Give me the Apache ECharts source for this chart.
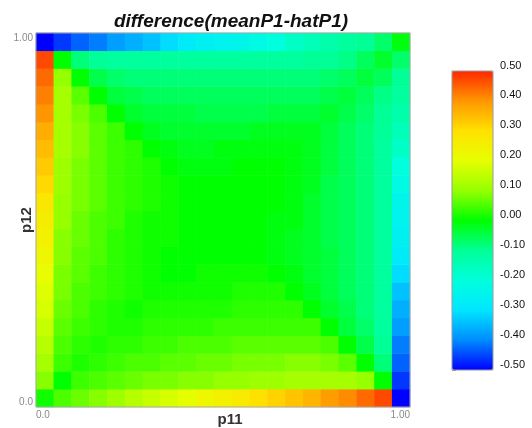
<!DOCTYPE html>
<html>
<head>
<meta charset="utf-8">
<script src="https://cdn.jsdelivr.net/npm/echarts@6/dist/echarts.min.js"></script>
<style>
html,body{margin:0;padding:0;background:#ffffff;}
#chart{width:532px;height:428px;}
</style>
</head>
<body>
<div id="chart"></div>
<script>
// ---------------- data ----------------
const chartTitle = 'difference(meanP1-hatP1)';
const p11Steps = [0.00,0.05,0.10,0.15,0.20,0.25,0.30,0.35,0.40,0.45,0.50,0.55,0.60,0.65,0.70,0.75,0.80,0.85,0.90,0.95,1.00];
const p12Steps = [0.00,0.05,0.10,0.15,0.20,0.25,0.30,0.35,0.40,0.45,0.50,0.55,0.60,0.65,0.70,0.75,0.80,0.85,0.90,0.95,1.00];
const xEndLabels = ['0.0', '1.00'];
const yEndLabels = ['0.0', '1.00'];
const colorbarMin = -0.5;
const colorbarMax = 0.5;

// diffRows[j][i] : value at p12 = p12Steps[j], p11 = p11Steps[i]
const diffRows = [
  [0.01, 0.05, 0.07, 0.09, 0.11, 0.14, 0.16, 0.18, 0.20, 0.23, 0.25, 0.27, 0.30, 0.32, 0.34, 0.36, 0.39, 0.41, 0.44, 0.47, -0.50], // p12=0.00
  [0.09, 0.00, 0.04, 0.05, 0.06, 0.07, 0.08, 0.08, 0.09, 0.09, 0.10, 0.10, 0.11, 0.11, 0.12, 0.12, 0.12, 0.12, 0.10, 0.00, -0.46], // 0.05
  [0.12, 0.04, 0.02, 0.03, 0.04, 0.05, 0.05, 0.06, 0.06, 0.07, 0.07, 0.08, 0.08, 0.08, 0.09, 0.09, 0.08, 0.06, 0.00, -0.08, -0.43], // 0.10
  [0.14, 0.05, 0.03, 0.02, 0.03, 0.03, 0.04, 0.04, 0.05, 0.05, 0.05, 0.06, 0.06, 0.06, 0.06, 0.06, 0.05, 0.00, -0.05, -0.10, -0.41], // 0.15
  [0.16, 0.06, 0.04, 0.03, 0.02, 0.02, 0.03, 0.03, 0.03, 0.03, 0.04, 0.04, 0.04, 0.04, 0.04, 0.04, 0.00, -0.04, -0.07, -0.11, -0.38], // 0.20
  [0.18, 0.07, 0.05, 0.03, 0.02, 0.01, 0.02, 0.02, 0.02, 0.02, 0.02, 0.03, 0.03, 0.03, 0.03, 0.00, -0.03, -0.05, -0.08, -0.11, -0.36], // 0.25
  [0.19, 0.08, 0.05, 0.04, 0.03, 0.02, 0.01, 0.01, 0.01, 0.01, 0.01, 0.02, 0.02, 0.02, 0.00, -0.02, -0.04, -0.06, -0.08, -0.11, -0.34], // 0.30
  [0.21, 0.08, 0.06, 0.04, 0.03, 0.02, 0.01, 0.00, 0.00, 0.01, 0.01, 0.01, 0.01, 0.00, -0.01, -0.03, -0.04, -0.06, -0.08, -0.11, -0.31], // 0.35
  [0.23, 0.09, 0.06, 0.05, 0.03, 0.02, 0.01, 0.00, 0.00, 0.00, 0.00, 0.00, 0.00, -0.01, -0.02, -0.03, -0.04, -0.06, -0.08, -0.11, -0.28], // 0.40
  [0.25, 0.09, 0.07, 0.05, 0.03, 0.02, 0.01, 0.01, 0.00, 0.00, 0.00, 0.00, 0.00, -0.01, -0.02, -0.03, -0.05, -0.06, -0.08, -0.11, -0.26], // 0.45
  [0.26, 0.10, 0.07, 0.05, 0.04, 0.02, 0.01, 0.01, 0.00, 0.00, 0.00, 0.00, 0.00, -0.01, -0.01, -0.03, -0.05, -0.06, -0.08, -0.11, -0.25], // 0.50
  [0.28, 0.10, 0.08, 0.06, 0.04, 0.03, 0.02, 0.01, 0.00, 0.00, 0.00, 0.00, 0.00, 0.00, -0.01, -0.03, -0.05, -0.06, -0.08, -0.11, -0.24], // 0.55
  [0.31, 0.11, 0.08, 0.06, 0.04, 0.03, 0.02, 0.01, 0.00, 0.00, 0.00, 0.00, 0.00, 0.00, -0.01, -0.02, -0.05, -0.06, -0.08, -0.11, -0.22], // 0.60
  [0.33, 0.11, 0.08, 0.06, 0.04, 0.03, 0.02, 0.00, -0.01, -0.01, -0.01, 0.00, 0.00, 0.00, -0.01, -0.02, -0.04, -0.06, -0.08, -0.11, -0.20], // 0.65
  [0.35, 0.12, 0.09, 0.06, 0.04, 0.03, 0.00, -0.01, -0.02, -0.02, -0.01, -0.01, -0.01, -0.01, -0.01, -0.02, -0.04, -0.06, -0.08, -0.11, -0.17], // 0.70
  [0.37, 0.12, 0.09, 0.06, 0.04, 0.00, -0.02, -0.03, -0.03, -0.03, -0.03, -0.03, -0.02, -0.02, -0.02, -0.02, -0.04, -0.06, -0.08, -0.10, -0.15], // 0.75
  [0.40, 0.12, 0.08, 0.05, 0.00, -0.03, -0.04, -0.04, -0.04, -0.05, -0.05, -0.05, -0.05, -0.04, -0.04, -0.04, -0.03, -0.05, -0.07, -0.10, -0.13], // 0.80
  [0.42, 0.12, 0.06, 0.00, -0.04, -0.05, -0.06, -0.06, -0.06, -0.06, -0.06, -0.06, -0.06, -0.06, -0.06, -0.06, -0.05, -0.04, -0.06, -0.09, -0.11], // 0.85
  [0.44, 0.10, 0.00, -0.05, -0.07, -0.08, -0.08, -0.08, -0.08, -0.08, -0.08, -0.08, -0.08, -0.08, -0.08, -0.08, -0.07, -0.06, -0.04, -0.06, -0.10], // 0.90
  [0.47, 0.00, -0.08, -0.10, -0.11, -0.11, -0.11, -0.11, -0.11, -0.11, -0.11, -0.11, -0.11, -0.11, -0.11, -0.10, -0.10, -0.09, -0.06, -0.03, -0.07], // 0.95
  [-0.50, -0.46, -0.43, -0.41, -0.38, -0.36, -0.34, -0.31, -0.28, -0.26, -0.25, -0.24, -0.22, -0.20, -0.17, -0.15, -0.13, -0.11, -0.10, -0.07, -0.01]  // 1.00
];

// ---------------- chart ----------------
const FONT = '"Liberation Sans", Arial, Helvetica, sans-serif';
const heatData = [];
diffRows.forEach(function (row, j) {
  row.forEach(function (v, i) { heatData.push([i, j, v]); });
});

const chart = echarts.init(document.getElementById('chart'), null, {renderer: 'canvas'});
const option = {
  backgroundColor: '#ffffff',
  animation: false,
  textStyle: {fontFamily: FONT},
  title: {
    text: chartTitle,
    left: 231,
    top: 12,
    textAlign: 'center',
    padding: 0,
    textStyle: {fontFamily: FONT, fontSize: 19, fontWeight: 'bold', fontStyle: 'italic', color: '#111111'}
  },
  grid: [
    {left: 36, top: 33, width: 374, height: 374, show: true, borderColor: '#a8a8a8', borderWidth: 1,
     backgroundColor: 'transparent', z: 5, containLabel: false, outerBoundsMode: 'none'},
    {left: 452, top: 71, width: 41, height: 299, show: true, borderColor: '#9a9a9a', borderWidth: 1,
     backgroundColor: 'transparent', z: 5, containLabel: false, outerBoundsMode: 'none'}
  ],
  xAxis: [
    {type: 'category', gridIndex: 0, data: p11Steps.map(function (v) { return v.toFixed(2); }), show: false},
    {type: 'value', gridIndex: 0, min: 0, max: 1, interval: 1, position: 'bottom',
     axisLine: {show: false}, axisTick: {show: false}, splitLine: {show: false},
     axisLabel: {show: true, showMinLabel: true, showMaxLabel: true, margin: 3, fontSize: 10, color: '#8a8a8a',
       fontFamily: FONT, alignMinLabel: 'left', alignMaxLabel: 'right',
       formatter: function (v) { return v === 0 ? xEndLabels[0] : xEndLabels[1]; }},
     name: 'p11', nameLocation: 'middle', nameGap: 5, nameMoveOverlap: false,
     nameTextStyle: {fontFamily: FONT, fontSize: 15, fontWeight: 'bold', color: '#333333', padding: [0, 0, 0, 14]}},
    {type: 'value', gridIndex: 1, min: 0, max: 1, show: false}
  ],
  yAxis: [
    {type: 'category', gridIndex: 0, data: p12Steps.map(function (v) { return v.toFixed(2); }), show: false},
    {type: 'value', gridIndex: 0, min: 0, max: 1, interval: 1, position: 'left',
     axisLine: {show: false}, axisTick: {show: false}, splitLine: {show: false},
     axisLabel: {show: true, showMinLabel: true, showMaxLabel: true, margin: 3, fontSize: 10, color: '#8a8a8a',
       fontFamily: FONT, verticalAlignMinLabel: 'bottom', verticalAlignMaxLabel: 'top',
       formatter: function (v) { return v === 0 ? yEndLabels[0] : yEndLabels[1]; }},
     name: 'p12', nameLocation: 'middle', nameGap: 2, nameRotate: 90, nameMoveOverlap: false,
     nameTextStyle: {fontFamily: FONT, fontSize: 15, fontWeight: 'bold', color: '#333333'}},
    {type: 'value', gridIndex: 1, min: colorbarMin, max: colorbarMax, interval: 0.1, position: 'right',
     axisLine: {show: false},
     axisTick: {show: true, length: 4, lineStyle: {color: '#999999', width: 1}},
     minorTick: {show: true, splitNumber: 2, length: 3, lineStyle: {color: '#999999', width: 1}},
     splitLine: {show: false},
     axisLabel: {show: true, margin: 7, fontSize: 11, color: '#111111', fontFamily: FONT, verticalAlign: 'bottom',
       formatter: function (v) { return (Math.round(v * 100) / 100).toFixed(2); }}}
  ],
  visualMap: {
    type: 'continuous',
    seriesIndex: 0,
    min: colorbarMin,
    max: colorbarMax,
    calculable: false,
    hoverLink: false,
    orient: 'vertical',
    left: 452,
    top: 71,
    itemWidth: 41,
    itemHeight: 299,
    padding: 0,
    text: null,
    inRange: {
      color: ['#0000ff', '#008cff', '#00e6ff', '#00ffdc', '#00ff96', '#00ff00',
              '#96ff00', '#e6ff00', '#ffe100', '#ff9600', '#ff2800']
    }
  },
  series: [{
    type: 'heatmap',
    xAxisIndex: 0,
    yAxisIndex: 0,
    data: heatData,
    progressive: 0,
    emphasis: {disabled: true},
    itemStyle: {borderWidth: 0}
  }]
};
chart.setOption(option);
</script>
</body>
</html>
